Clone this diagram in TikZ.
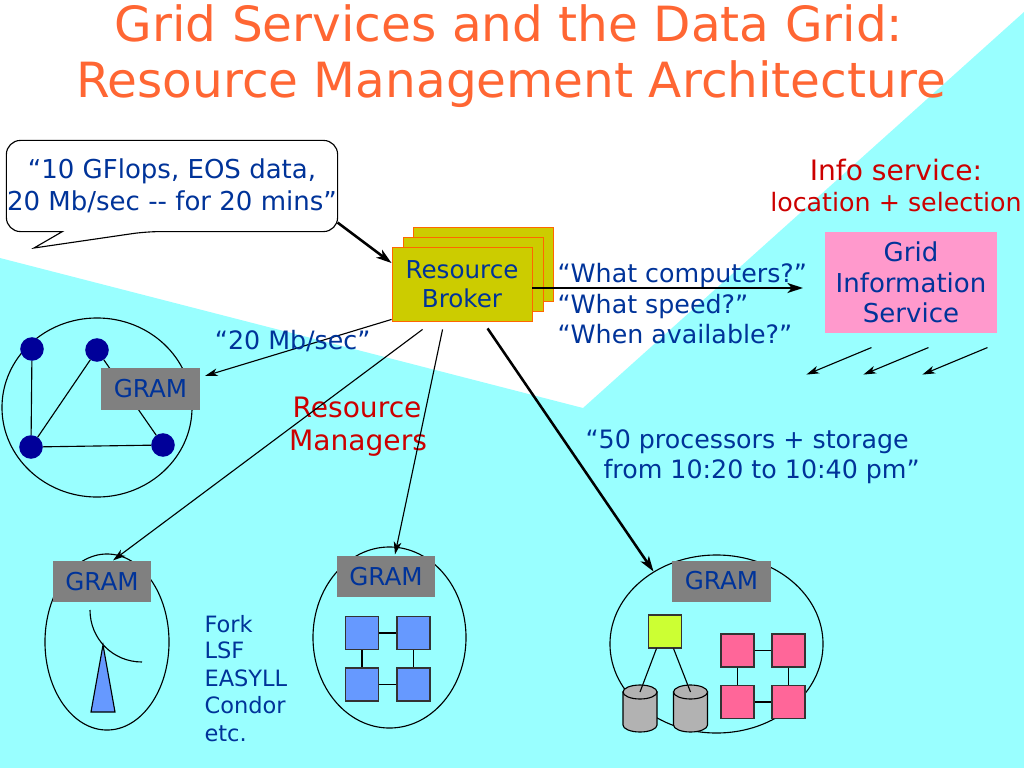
\documentclass[tikz,border=0pt]{standalone}
\usepackage{fontspec}
\setmainfont{DejaVu Sans}
\usetikzlibrary{positioning}
\usetikzlibrary{arrows,arrows.meta,shapes}
\usetikzlibrary{shapes.geometric}
\usetikzlibrary{calc}
\definecolor{skycyan}{RGB}{153,255,255}
\definecolor{titleorange}{RGB}{255,102,51}
\definecolor{textblue}{RGB}{0,51,153}
\definecolor{labelred}{RGB}{204,0,0}
\definecolor{brokerfill}{RGB}{204,204,0}
\definecolor{brokerline}{RGB}{255,102,0}
\definecolor{gispink}{RGB}{255,153,204}
\definecolor{gramgray}{RGB}{128,128,128}
\definecolor{hostnavy}{RGB}{0,0,153}
\definecolor{cpublue}{RGB}{102,153,255}
\definecolor{cpupink}{RGB}{255,102,153}
\definecolor{cpulime}{RGB}{204,255,51}
\definecolor{diskgray}{RGB}{178,178,178}
\tikzstyle{title}=[text=titleorange,font=\fontsize{34.5}{40}\selectfont,inner sep=0pt]
\tikzstyle{txt}=[text=textblue,font=\fontsize{18}{22}\selectfont,inner sep=0pt]
\tikzstyle{boxtxt}=[text=textblue,font=\fontsize{17.5}{20.5}\selectfont]
\tikzstyle{smalltxt}=[text=textblue,font=\fontsize{16}{19}\selectfont,inner sep=0pt]
\tikzstyle{redtxt}=[text=labelred,font=\fontsize{20}{24}\selectfont,inner sep=0pt]
\tikzstyle{broker}=[rectangle,fill=brokerfill,draw=brokerline,line width=0.6pt,minimum width=3.5cm,minimum height=1.85cm,align=center,boxtxt]
\tikzstyle{gis}=[rectangle,fill=gispink,minimum width=4.3cm,minimum height=2.525cm,align=center,boxtxt,font=\fontsize{18.5}{21.5}\selectfont]
\tikzstyle{gram}=[rectangle,fill=gramgray,minimum width=2.45cm,minimum height=1.025cm,boxtxt]
\tikzstyle{pool}=[ellipse,draw,inner sep=0pt]
\tikzstyle{host}=[circle,fill=hostnavy,draw=hostnavy,minimum size=0.56cm,inner sep=0pt]
\tikzstyle{cpu}=[rectangle,fill=cpublue,draw=black!80,minimum size=0.825cm,inner sep=0pt]
\tikzstyle{edge}=[draw,-{Stealth[length=9pt,width=5.5pt,inset=2.5pt]}]
\tikzstyle{thickedge}=[draw,line width=1.8pt,-{Stealth[length=11pt,width=7pt,inset=3pt]}]
\tikzstyle{undirectededge}=[draw]

\begin{document}
\begin{tikzpicture}[x=0.025cm,y=-0.025cm,line width=0.8pt]
    \useasboundingbox (0,0) rectangle (1024,768);
    \fill[skycyan] (0,258) -- (583,408) -- (1024,12) -- (1024,768) -- (0,768) -- cycle;

    % title
    \node[title,anchor=base] (title1) at (509,42) {Grid Services and the Data Grid:};
    \node[title,anchor=base] (title2) at (511,98) {Resource Management Architecture};

    % request balloon
    \node[txt,font=\fontsize{18.5}{22.5}\selectfont,minimum width=8.25cm,minimum height=2.25cm,align=center] (req) at (172,186) {“10 GFlops, EOS data,\\20 Mb/sec -{}- for 20 mins”};
    \coordinate (reqtip) at (34,248);
    \draw[rounded corners=0.35cm] ($(req.south west)+(56,0)$) -- (req.south west) -- (req.north west) -- (req.north east) -- (req.south east) -- ($(req.south west)+(140,0)$) [sharp corners] -- (reqtip) -- cycle;

    % broker
    \node[broker] (brokerC) at (483,264) {};
    \node[broker] (brokerB) at (473,274) {};
    \node[broker] (broker) at (462,284) {Resource\\Broker};

    % info service
    \node[redtxt,anchor=base] (infohead) at (896,180) {Info service:};
    \node[txt,anchor=base,text=labelred] (infosub) at (896,211) {location + selection};
    \node[gis] (gis) at (911,282.5) {Grid\\Information\\Service};
    \coordinate (gisq) at (803,288);
    \foreach \name/\y/\label in {q1/282/{“What computers?”}, q2/313/{“What speed?”}, q3/343/{“When available?”}}
        \node[txt,anchor=base west] (\name) at (557,\y) {\label};
    \foreach \i/\dx in {1/0, 2/57, 3/116}
    {
        \coordinate (gs\i) at ($(gis.south west)+(47+\dx,14)$);
        \coordinate (ge\i) at ($(gis.south west)+(-18+\dx,41)$);
        \path[edge] (gs\i) -- (ge\i);
    }

    % pools
    \node[pool,minimum width=4.75cm,minimum height=4.475cm] (poolA) at (97,407.5) {};
    \node[pool,minimum width=3.1cm,minimum height=4.4cm] (poolB) at (107,642) {};
    \node[pool,minimum width=3.825cm,minimum height=4.525cm] (poolC) at (389.5,637.5) {};
    \node[pool,minimum width=5.325cm,minimum height=4.45cm] (poolD) at (716.5,644) {};

    % cluster
    \foreach \pos/\name in {{(32,349)/h1}, {(97,350)/h2}, {(31,447)/h3}, {(163,445)/h4}}
        \node[host] (\name) at \pos {};
    \foreach \source/\dest in {h1/h3, h3/h2, h3/h4, h2/h4}
        \path[undirectededge] (\source) -- (\dest);

    % tower
    \draw (90,610) .. controls (90,639) and (113,662) .. (142,662);
    \filldraw[fill=cpublue] (103,645) -- (115,712) -- (91,712) -- cycle;

    % parallel machine
    \foreach \pos/\name in {{(362,633)/c1}, {(413.5,633)/c2}, {(362,684.5)/c3}, {(413.5,684.5)/c4}}
        \node[cpu] (\name) at \pos {};
    \foreach \source/\dest in {c1/c2, c3/c4, c1/c3, c2/c4}
        \path[undirectededge] (\source) -- (\dest);

    % data site
    \foreach \pos/\name in {{(737.5,650.5)/p1}, {(788.5,650.5)/p2}, {(737.5,702)/p3}, {(788.5,702)/p4}}
        \node[cpu,fill=cpupink] (\name) at \pos {};
    \foreach \source/\dest in {p1/p2, p3/p4, p1/p3, p2/p4}
        \path[undirectededge] (\source) -- (\dest);
    \node[cpu,fill=cpulime] (server) at (665,631.5) {};
    \foreach \x/\name in {640/diskL, 690.5/diskR}
    {
        \filldraw[fill=diskgray] ({\x-17},692) -- ({\x-17},725) arc[start angle=180,end angle=0,x radius=17,y radius=7] -- ({\x+17},692) -- cycle;
        \filldraw[fill=diskgray] (\x,692) ellipse[x radius=17,y radius=7];
        \coordinate (\name) at (\x,692);
    }
    \path[undirectededge] ($(server.south)!0.5!(server.south west)$) -- (diskL);
    \path[undirectededge] ($(server.south)!0.5!(server.south east)$) -- (diskR);

    % GRAMs
    \foreach \pos/\name in {{(150.5,389)/gramA}, {(102,581.5)/gramB}, {(386,576.5)/gramC}, {(721.5,581)/gramD}}
        \node[gram] (\name) at \pos {GRAM};

    % schedulers
    \foreach \name/\y/\label in {s1/632/Fork, s2/658/LSF, s3/686/EASYLL, s4/713/Condor, s5/741/etc.}
        \node[smalltxt,anchor=base west] (\name) at (204,\y) {\label};

    % labels
    \node[redtxt,anchor=base] (rm1) at (357,417) {Resource};
    \node[redtxt,anchor=base] (rm2) at (358,450) {Managers};
    \node[txt,anchor=base west] (ask1) at (585,448) {“50 processors + storage};
    \node[txt,anchor=base west] (ask2) at (603,478) {from 10:20 to 10:40 pm”};

    % requests
    \path[thickedge] ($(req.south east)+(0,-9)$) -- ($(broker.north west)!0.22!(broker.south west)$);
    \path[thickedge] ($(broker.east)+(0,4)$) -- (gisq);
    \path[edge] ($(broker.south west)+(0,-2)$) -- node[txt,pos=0.53,yshift=0.22cm] (rate) {“20 Mb/sec”} ($(gramA.north east)+(5,8)$);
    \path[edge] ($(broker.south west)+(31,8)$) -- ($(gramB.north)+(11,0)$);
    \path[edge] ($(broker.south west)+(51,8)$) -- ($(gramC.north)+(9,-1)$);
    \path[thickedge] ($(broker.south west)+(96,7)$) -- (poolD.131);
\end{tikzpicture}
\end{document}
